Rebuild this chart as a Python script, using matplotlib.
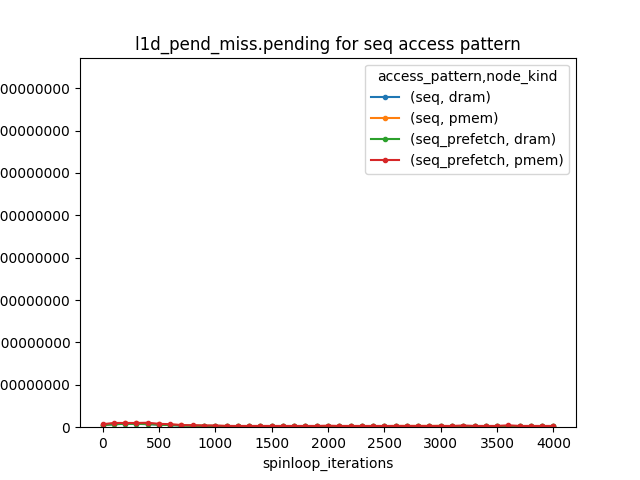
import matplotlib
matplotlib.use("Agg")
import matplotlib.pyplot as plt

spinloop_iterations = list(range(0, 4001, 100))

# values (all tiny compared to the axis range)
seq_dram = [5e6, 7e6, 8e6, 8e6, 7e6, 6e6, 5e6, 4e6, 3.5e6, 3e6, 3e6, 2.5e6, 2.5e6, 2e6, 2e6,
            2e6, 2e6, 2e6, 2e6, 2e6, 2e6, 2e6, 2e6, 2e6, 2e6, 2e6, 2e6, 2e6, 2e6, 2e6,
            2e6, 2e6, 2e6, 2e6, 2e6, 2e6, 2e6, 2e6, 2e6, 2e6, 2e6]
seq_pmem = [6e6, 8e6, 9e6, 9e6, 8e6, 7e6, 6e6, 5e6, 4e6, 3.5e6, 3e6, 3e6, 2.5e6, 2.5e6, 2.5e6,
            2.5e6, 2.5e6, 2.5e6, 2.5e6, 2.5e6, 3e6, 2.5e6, 2.5e6, 2.5e6, 2.5e6, 2.5e6, 3e6, 3e6, 3e6, 3e6,
            3e6, 2.5e6, 2.5e6, 2.5e6, 2.5e6, 2.5e6, 2.5e6, 2.5e6, 2.5e6, 2.5e6, 2.5e6]
seq_prefetch_dram = [5e6, 7e6, 8e6, 8e6, 8e6, 6e6, 5e6, 4e6, 3.5e6, 3e6, 3e6, 2.5e6, 2.5e6, 2e6, 2e6,
                     2e6, 2e6, 2e6, 2e6, 2e6, 2e6, 2e6, 2e6, 2e6, 2.5e6, 2.5e6, 2.5e6, 2.5e6, 2.5e6, 2.5e6,
                     3e6, 2e6, 2e6, 2e6, 2e6, 2e6, 2e6, 2e6, 2e6, 2e6, 2e6]
seq_prefetch_pmem = [7e6, 1e7, 1e7, 1e7, 1.05e7, 8e6, 7e6, 5e6, 4.5e6, 4e6, 4e6, 3e6, 3e6, 3e6, 3e6,
                     3e6, 3e6, 3e6, 3e6, 3e6, 3.5e6, 3e6, 3e6, 3e6, 3e6, 3e6, 3e6, 3e6, 3e6, 3e6,
                     3e6, 3e6, 4e6, 3e6, 3e6, 3e6, 4.5e6, 3e6, 3e6, 3e6, 3e6]

series = [
    ("(seq, dram)", seq_dram, "#1f77b4"),
    ("(seq, pmem)", seq_pmem, "#ff7f0e"),
    ("(seq_prefetch, dram)", seq_prefetch_dram, "#2ca02c"),
    ("(seq_prefetch, pmem)", seq_prefetch_pmem, "#d62728"),
]

fig, ax = plt.subplots(figsize=(6.4, 4.8), dpi=100)
for label, values, color in series:
    ax.plot(spinloop_iterations, values, marker='.', label=label, color=color)

ax.set_ylim(0, 8.72e8)
ax.ticklabel_format(axis='y', style='plain', useOffset=False)
ax.set_xlabel('spinloop_iterations')
ax.set_title('l1d_pend_miss.pending for seq access pattern')
ax.legend(title='access_pattern,node_kind')

fig.savefig('out.png')
